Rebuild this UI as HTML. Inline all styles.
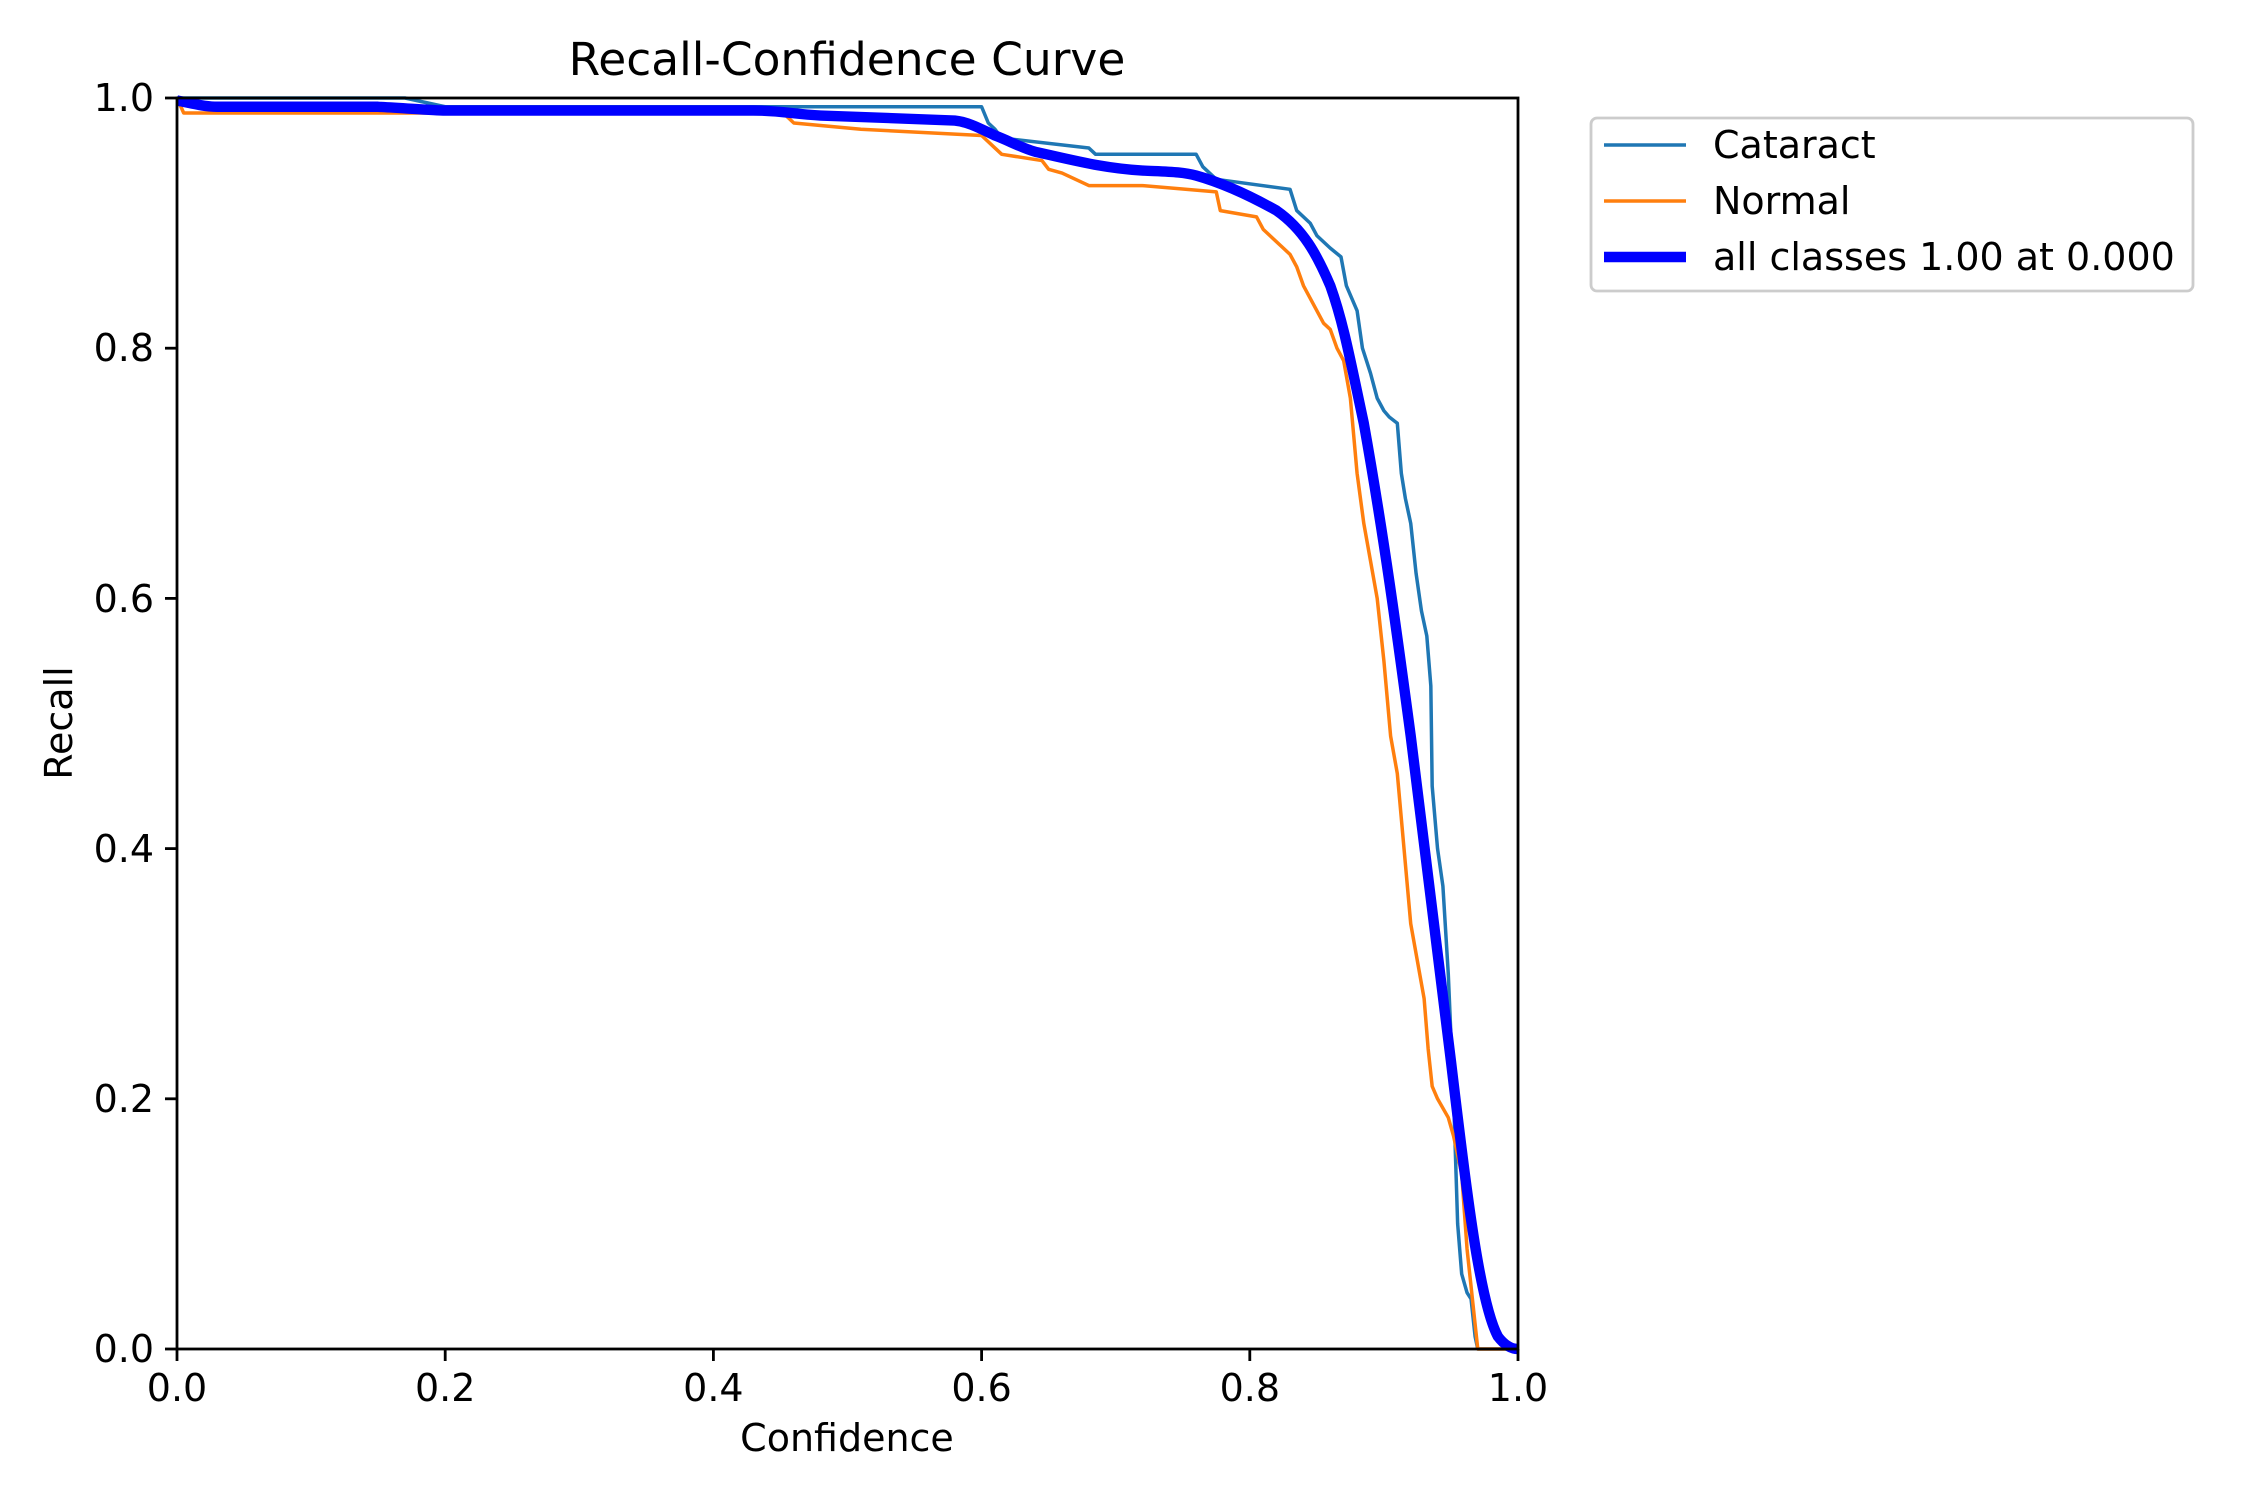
<!DOCTYPE html>
<html><head><meta charset="utf-8"><style>
html,body{margin:0;padding:0;background:#fff}
svg{display:block}
text{font-family:"DejaVu Sans","Liberation Sans",sans-serif;fill:#000}
</style></head><body>
<svg width="2250" height="1500" xmlns="http://www.w3.org/2000/svg">
<rect width="2250" height="1500" fill="#fff"/>
<text x="847" y="75" font-size="45.5" text-anchor="middle">Recall-Confidence Curve</text>
<g transform="translate(177,1349) scale(1341,-1251)" fill="none" stroke-linejoin="round">
<polyline vector-effect="non-scaling-stroke" stroke="#1f77b4" stroke-width="3.5" points="0,1 0.17,1 0.2,0.993 0.6,0.993 0.605,0.98 0.61,0.975 0.615,0.968 0.68,0.96 0.685,0.955 0.76,0.955 0.765,0.945 0.775,0.935 0.83,0.927 0.835,0.91 0.845,0.9 0.85,0.89 0.86,0.88 0.868,0.873 0.872,0.85 0.876,0.84 0.88,0.83 0.884,0.8 0.89,0.78 0.895,0.76 0.9,0.75 0.904,0.745 0.91,0.74 0.913,0.7 0.916,0.68 0.92,0.66 0.924,0.62 0.928,0.59 0.932,0.57 0.935,0.53 0.936,0.45 0.94,0.4 0.944,0.37 0.948,0.3 0.952,0.2 0.955,0.1 0.958,0.06 0.962,0.045 0.965,0.04 0.968,0.01 0.97,0 1,0"/>
<polyline vector-effect="non-scaling-stroke" stroke="#ff7f0e" stroke-width="3.5" points="0,1 0.005,0.988 0.2,0.988 0.21,0.99 0.45,0.99 0.46,0.98 0.51,0.975 0.6,0.97 0.61,0.96 0.615,0.955 0.645,0.95 0.65,0.943 0.66,0.94 0.67,0.935 0.68,0.93 0.72,0.93 0.775,0.925 0.778,0.91 0.805,0.905 0.81,0.895 0.815,0.89 0.825,0.88 0.83,0.875 0.835,0.865 0.84,0.85 0.845,0.84 0.85,0.83 0.855,0.82 0.86,0.815 0.865,0.8 0.87,0.79 0.875,0.76 0.88,0.7 0.885,0.66 0.89,0.63 0.895,0.6 0.9,0.55 0.905,0.49 0.91,0.46 0.915,0.4 0.92,0.34 0.925,0.31 0.93,0.28 0.933,0.24 0.936,0.21 0.94,0.2 0.948,0.185 0.952,0.17 0.958,0.14 0.962,0.08 0.967,0.03 0.97,0 1,0"/>
<path vector-effect="non-scaling-stroke" stroke="#0000ff" stroke-width="10.4" d="M0,0.998 C0.01,0.996 0.02,0.993 0.03,0.993 L0.15,0.993 C0.17,0.992 0.19,0.99 0.2,0.99 L0.43,0.99 C0.45,0.99 0.46,0.987 0.48,0.986 L0.58,0.982 C0.59,0.981 0.6,0.975 0.61,0.97 C0.62,0.966 0.63,0.96 0.64,0.957 C0.67,0.95 0.69,0.944 0.72,0.942 C0.74,0.941 0.75,0.941 0.76,0.938 C0.78,0.932 0.8,0.922 0.82,0.91 C0.84,0.895 0.85,0.875 0.86,0.85 C0.87,0.82 0.875,0.79 0.885,0.74 C0.9,0.65 0.91,0.57 0.92,0.49 C0.93,0.41 0.94,0.32 0.95,0.23 C0.96,0.14 0.965,0.1 0.97,0.07 C0.975,0.04 0.98,0.02 0.985,0.01 C0.99,0.003 0.995,0 1,0"/>
</g>
<rect x="177" y="98" width="1341" height="1251" fill="none" stroke="#000" stroke-width="2.8"/>
<g stroke="#000" stroke-width="2.8">
<line x1="177" y1="1349" x2="177" y2="1361"/><line x1="445.2" y1="1349" x2="445.2" y2="1361"/><line x1="713.4" y1="1349" x2="713.4" y2="1361"/><line x1="981.6" y1="1349" x2="981.6" y2="1361"/><line x1="1249.8" y1="1349" x2="1249.8" y2="1361"/><line x1="1518" y1="1349" x2="1518" y2="1361"/>
<line x1="165" y1="1349" x2="177" y2="1349"/><line x1="165" y1="1098.8" x2="177" y2="1098.8"/><line x1="165" y1="848.6" x2="177" y2="848.6"/><line x1="165" y1="598.4" x2="177" y2="598.4"/><line x1="165" y1="348.2" x2="177" y2="348.2"/><line x1="165" y1="98" x2="177" y2="98"/>
</g>
<g font-size="38" text-anchor="middle">
<text x="177" y="1401">0.0</text><text x="445.2" y="1401">0.2</text><text x="713.4" y="1401">0.4</text><text x="981.6" y="1401">0.6</text><text x="1249.8" y="1401">0.8</text><text x="1518" y="1401">1.0</text>
</g>
<g font-size="38" text-anchor="end">
<text x="154" y="1362">0.0</text><text x="154" y="1112">0.2</text><text x="154" y="862">0.4</text><text x="154" y="612">0.6</text><text x="154" y="361">0.8</text><text x="154" y="111">1.0</text>
</g>
<text x="847" y="1451" font-size="38" text-anchor="middle">Confidence</text>
<text transform="translate(72,723) rotate(-90)" font-size="38" text-anchor="middle">Recall</text>
<rect x="1591" y="118" width="602" height="173" rx="6" fill="#fff" stroke="#ccc" stroke-width="2.8"/>
<line x1="1604" y1="145" x2="1686" y2="145" stroke="#1f77b4" stroke-width="3.5"/>
<line x1="1604" y1="201" x2="1686" y2="201" stroke="#ff7f0e" stroke-width="3.5"/>
<line x1="1604" y1="257" x2="1686" y2="257" stroke="#0000ff" stroke-width="10.4"/>
<g font-size="38">
<text x="1713" y="158">Cataract</text>
<text x="1713" y="214">Normal</text>
<text x="1713" y="270">all classes 1.00 at 0.000</text>
</g>
</svg>
</body></html>
